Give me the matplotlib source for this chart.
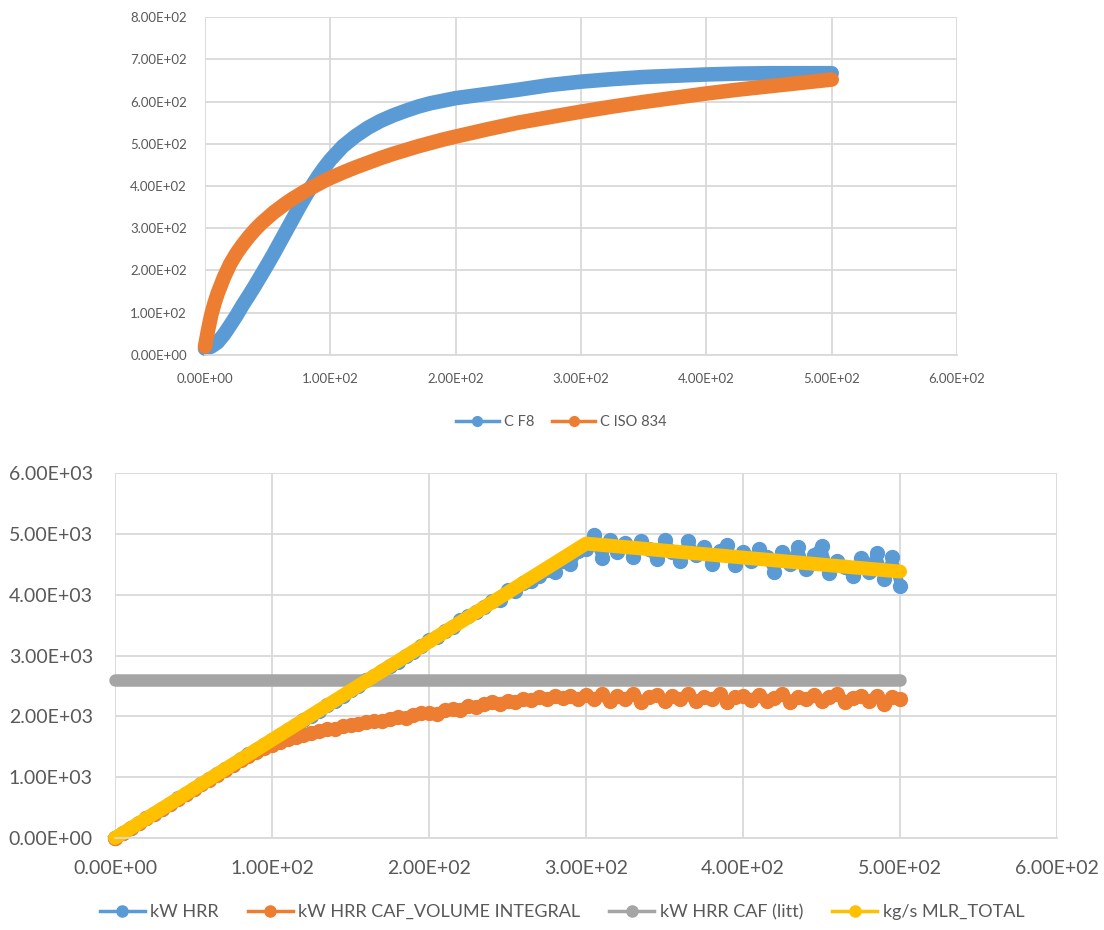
#Two Excel-style line charts: temperature curves (top) and heat release (bottom)

import matplotlib
matplotlib.use("Agg")
import matplotlib.pyplot as plt
from matplotlib.lines import Line2D
from matplotlib.ticker import MultipleLocator, FormatStrFormatter
from matplotlib import font_manager
import numpy as np

#Font close to Calibri in size
names = {f.name for f in font_manager.fontManager.ttflist}
plt.rcParams['font.family'] = ['Lato' if 'Lato' in names else 'DejaVu Sans']

#Colours (Excel defaults)
blue = '#5B9BD5'
orange = '#ED7D31'
gray = '#A5A5A5'
yellow = '#FFC000'
text_col = '#595959'
grid_col = '#D9D9D9'

#Top chart data
t_top = [0, 2.5, 5, 7.5, 10, 15, 20, 25, 30, 35, 40, 45, 50, 55, 60, 65, 70,
         75, 80, 85, 90, 95, 100, 110, 120, 130, 140, 150, 160, 170, 180, 190,
         200, 225, 250, 275, 300, 325, 350, 375, 400, 425, 450, 475, 500]
c_f8 = [15, 17, 20, 25, 30, 48, 70, 93, 118, 141, 165, 190, 215, 241, 268,
        295, 322, 349, 375, 399, 422, 443, 462, 494, 518, 538, 554, 567, 578,
        588, 596, 602, 608, 618, 628, 639, 647, 653, 658, 661, 664, 666, 667,
        667, 667]
c_iso834 = [20, 60, 95, 122, 145, 183, 215, 240, 261, 280, 297, 312, 325, 338,
            349, 360, 370, 379, 388, 396, 404, 412, 419, 432, 444, 455, 466,
            476, 485, 494, 502, 510, 517, 534, 550, 563, 576, 588, 599, 609,
            619, 628, 636, 644, 652]

#Bottom chart data (every 5 s)
t_hrr = np.arange(0, 501, 5)
kw_hrr = [0, 85, 165, 240, 325, 400, 485, 565, 650, 725, 805, 890, 965, 1045,
          1130, 1205, 1295, 1375, 1450, 1535, 1615, 1695, 1775, 1850, 1945,
          2010, 2095, 2180, 2260, 2330, 2440, 2500, 2590, 2660, 2750, 2830,
          2890, 2990, 3060, 3150, 3260, 3300, 3400, 3470, 3590, 3650, 3720,
          3790, 3900, 3920, 4080, 4060, 4200, 4220, 4300, 4410, 4380, 4560,
          4500, 4720, 4750,
          4980, 4600, 4900, 4700, 4850, 4620, 4880, 4750, 4580, 4900, 4700,
          4550, 4880, 4650, 4780, 4500, 4720, 4820, 4480, 4700, 4560, 4750,
          4620, 4380, 4700, 4500, 4780, 4420, 4650, 4800, 4350, 4560, 4450,
          4300, 4600, 4380, 4680, 4250, 4620, 4150]
kw_caf_volume = [0, 80, 160, 240, 325, 400, 485, 560, 645, 720, 805, 880, 960,
                 1040, 1120, 1200, 1280, 1350, 1420, 1480, 1530, 1580, 1620,
                 1660, 1700, 1730, 1760, 1790, 1800, 1840, 1850, 1880, 1900,
                 1930, 1920, 1960, 1990, 1980, 2030, 2050, 2060, 2040, 2100,
                 2120, 2110, 2170, 2150, 2200, 2230, 2210, 2260, 2240, 2290,
                 2270, 2310, 2280, 2330, 2300, 2340, 2290, 2350,
                 2280, 2360, 2250, 2330, 2290, 2370, 2240, 2310, 2350, 2260,
                 2330, 2280, 2370, 2250, 2320, 2290, 2360, 2230, 2310, 2340,
                 2270, 2350, 2250, 2300, 2370, 2240, 2320, 2280, 2350, 2260,
                 2310, 2370, 2230, 2300, 2340, 2250, 2330, 2210, 2320, 2280]
t_litt = [0, 500]
kw_caf_litt = [2600, 2600]
t_mlr = [0, 300, 500]
kg_mlr_total = [0, 4840, 4380]

fig = plt.figure(figsize=(11.04, 9.30), dpi=100)

def style_axes(ax, xmax, ymax, ystep, fsize, pad):
    ax.set_xlim(0, xmax)
    ax.set_ylim(0, ymax)
    ax.xaxis.set_major_locator(MultipleLocator(100))
    ax.yaxis.set_major_locator(MultipleLocator(ystep))
    ax.xaxis.set_major_formatter(FormatStrFormatter('%.2E'))
    ax.yaxis.set_major_formatter(FormatStrFormatter('%.2E'))
    ax.grid(True, color=grid_col, lw=1.3)
    ax.set_axisbelow(True)
    for s in ['top', 'right', 'left']:
        ax.spines[s].set_visible(False)
    ax.spines['bottom'].set_color(grid_col)
    ax.spines['bottom'].set_linewidth(1.3)
    ax.tick_params(length=0, labelsize=fsize, labelcolor=text_col, pad=pad)

#Top chart
ax1 = fig.add_axes([0.1857, 0.6183, 0.6812, 0.3634])
style_axes(ax1, 600, 800, 100, 9.5, 13)
ax1.plot(t_top, c_f8, color=blue, lw=10.5, solid_capstyle='round',
         solid_joinstyle='round', clip_on=False)
ax1.plot(t_top, c_iso834, color=orange, lw=10.5, solid_capstyle='round',
         solid_joinstyle='round', clip_on=False)

h1 = [Line2D([], [], color=blue, lw=2.5, marker='o', ms=7),
      Line2D([], [], color=orange, lw=2.5, marker='o', ms=7)]
fig.legend(h1, ['C F8', 'C ISO 834'], loc='center',
           bbox_to_anchor=(561 / 1104, 1 - 422 / 930), ncol=2, frameon=False,
           fontsize=10.5, labelcolor=text_col, handlelength=3.0,
           columnspacing=1.2, handletextpad=0.3)

#Bottom chart
ax2 = fig.add_axes([0.1042, 0.0989, 0.8533, 0.3925])
style_axes(ax2, 600, 6000, 1000, 14, 16)
ax2.plot(t_hrr, kw_hrr, color=blue, lw=7, marker='o', ms=10,
         solid_joinstyle='round', clip_on=False)
ax2.plot(t_hrr, kw_caf_volume, color=orange, lw=8, marker='o', ms=10,
         solid_joinstyle='round', clip_on=False)
ax2.plot(t_litt, kw_caf_litt, color=gray, lw=9, solid_capstyle='round',
         clip_on=False)
ax2.plot(t_mlr, kg_mlr_total, color=yellow, lw=10, solid_capstyle='round',
         solid_joinstyle='round', clip_on=False)

h2 = [Line2D([], [], color=c, lw=2.5, marker='o', ms=8)
      for c in [blue, orange, gray, yellow]]
fig.legend(h2, ['kW HRR', 'kW HRR CAF_VOLUME INTEGRAL', 'kW HRR CAF (litt)',
                'kg/s MLR_TOTAL'], loc='center',
           bbox_to_anchor=(562 / 1104, 1 - 912 / 930), ncol=4, frameon=False,
           fontsize=13, labelcolor=text_col, handlelength=2.5,
           columnspacing=1.6, handletextpad=0.3)

fig.savefig('out.png', dpi=100)
